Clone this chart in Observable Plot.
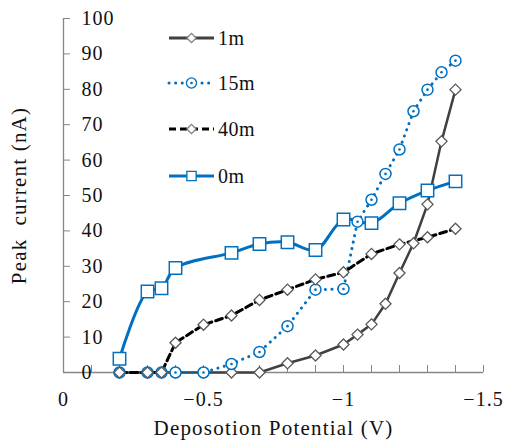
<!DOCTYPE html>
<html><head><meta charset="utf-8">
<script src="https://cdn.jsdelivr.net/npm/d3@7"></script>
<script src="https://cdn.jsdelivr.net/npm/@observablehq/plot@0.6"></script>
<style>
body{margin:0;background:#fff;}
#chart{width:506px;height:440px;}
#chart svg, #chart svg text { font-family: "Liberation Serif", serif !important; }
#chart svg text { font-size: 20px; }
#chart g[aria-label="x-axis tick label"] text, #chart g[aria-label="y-axis tick label"] text { letter-spacing: 1px; }
#chart g[aria-label="x-axis label"] text, #chart g[aria-label="y-axis label"] text { font-size: 21px; letter-spacing: 1.2px; }
</style>
</head><body><div id="chart"></div>
<script>
// ---- data ----
const seriesNames = ["1m", "15m", "40m", "0m"];
const x1m  = [-0.2,-0.3,-0.35,-0.4,-0.5,-0.6,-0.7,-0.8,-0.9,-1.0,-1.05,-1.1,-1.15,-1.2,-1.25,-1.3,-1.35,-1.4];
const y1m  = [0,0,0,0,0,0,0,2.6,4.8,7.9,10.7,13.6,19.4,28.1,36.5,47.5,65.3,79.9];
const x15m = [-0.2,-0.3,-0.35,-0.4,-0.5,-0.6,-0.7,-0.8,-0.9,-1.0,-1.05,-1.1,-1.15,-1.2,-1.25,-1.3,-1.35,-1.4];
const y15m = [0,0,0,0,0,2.4,5.8,13.1,23.4,23.6,42.6,48.8,56.1,63.0,73.8,79.9,84.8,88.1];
const x40m = [-0.2,-0.3,-0.35,-0.4,-0.5,-0.6,-0.7,-0.8,-0.9,-1.0,-1.1,-1.2,-1.3,-1.4];
const y40m = [0,0,0,8.4,13.5,16.1,20.5,23.4,26.3,28.3,33.5,36.2,38.2,40.6];
const x0m  = [-0.2,-0.3,-0.35,-0.4,-0.6,-0.7,-0.8,-0.9,-1.0,-1.1,-1.2,-1.3,-1.4];
const y0m  = [3.9,22.9,23.8,29.5,33.8,36.3,36.8,34.6,43.2,42.2,47.8,51.4,54.0];
const xTickLabels = [0,-0.5,-1,-1.5];
const xMinorTicks = [0,-0.1,-0.2,-0.3,-0.4,-0.5,-0.6,-0.7,-0.8,-0.9,-1.0,-1.1,-1.2,-1.3,-1.4,-1.5];
const yTickLabels = [0,10,20,30,40,50,60,70,80,90,100];
const xTitle = "Deposotion Potential (V)";
const yTitle = "Peak\u00a0\u00a0current (nA)";

const rows = (xs, ys) => xs.map((x, i) => ({x, y: ys[i]}));
const d1m = rows(x1m, y1m), d15m = rows(x15m, y15m), d40m = rows(x40m, y40m), d0m = rows(x0m, y0m);

const BLUE = "#0070C0", GRAY = "#404040", AX = "#868686", MK = "#595959", TXT = "#111";
const FONT = "Liberation Serif, serif";
const fmt = d => d === 0 ? "0" : d3.format("~g")(d);

const svg = Plot.plot({
  width: 506, height: 440,
  marginLeft: 63, marginRight: 23, marginTop: 18, marginBottom: 68,
  style: "font-family: 'Liberation Serif', serif; font-size: 20px; background: #fff; color: #111;",
  x: {domain: [0, -1.5]},
  y: {domain: [0, 100]},
  marks: [
    Plot.ruleY([0], {stroke: AX, strokeWidth: 1.3}),
    Plot.ruleX([0], {stroke: AX, strokeWidth: 1.3}),
    Plot.axisX(xMinorTicks, {anchor: "bottom", tickSize: -7, fill: "none", stroke: AX, label: null}),
    Plot.axisX(xTickLabels, {anchor: "bottom", tickSize: 0, tickPadding: 19, tickFormat: fmt, fontSize: 20, fill: TXT,
      label: xTitle, labelAnchor: "center", labelArrow: "none", labelOffset: 62}),
    Plot.axisY(yTickLabels, {anchor: "left", tickSize: -7, fill: "none", stroke: AX, label: null}),
    Plot.axisY(yTickLabels, {anchor: "left", tickSize: 0, tickPadding: 0, dx: 18, textAnchor: "start", fontSize: 20, fill: TXT,
      label: yTitle, labelAnchor: "center", labelArrow: "none", labelOffset: 52}),
    Plot.line(d1m, {x: "x", y: "y", stroke: GRAY, strokeWidth: 2.5}),
    Plot.line(d15m, {x: "x", y: "y", stroke: BLUE, strokeWidth: 3, strokeDasharray: "0.1 6.5", strokeLinecap: "round"}),
    Plot.line(d40m, {x: "x", y: "y", stroke: "#000", strokeWidth: 3, strokeDasharray: "7 4"}),
    Plot.line(d0m, {x: "x", y: "y", stroke: BLUE, strokeWidth: 3, curve: "catmull-rom"}),
    Plot.dot(d1m, {x: "x", y: "y", symbol: "diamond2", r: 5, fill: "#fff", stroke: MK, strokeWidth: 1.3}),
    Plot.dot(d15m, {x: "x", y: "y", symbol: "circle", r: 5.5, fill: "#fff", stroke: BLUE, strokeWidth: 1.5}),
    Plot.dot(d15m, {x: "x", y: "y", symbol: "circle", r: 1.3, fill: BLUE}),
    Plot.dot(d40m, {x: "x", y: "y", symbol: "diamond2", r: 5, fill: "#fff", stroke: MK, strokeWidth: 1.3}),
    Plot.dot(d0m, {x: "x", y: "y", symbol: "square", r: 7, fill: "#fff", stroke: BLUE, strokeWidth: 1.5})
  ]
});
document.getElementById("chart").appendChild(svg);

// ---- legend (inside plot area, top-left) ----
const legendSpec = [
  {name: seriesNames[0], stroke: GRAY, dash: null, cap: "butt", sym: d3.symbolDiamond2, size: 55, mstroke: "#7f7f7f", dot: false},
  {name: seriesNames[1], stroke: BLUE, dash: "0.1 6.5", cap: "round", sym: d3.symbolCircle, size: 80, mstroke: BLUE, dot: true},
  {name: seriesNames[2], stroke: "#000", dash: "7 4", cap: "butt", sym: d3.symbolDiamond2, size: 55, mstroke: "#7f7f7f", dot: false},
  {name: seriesNames[3], stroke: BLUE, dash: null, cap: "butt", sym: d3.symbolSquare2, size: 110, mstroke: BLUE, dot: false}
];
const rowY = [38, 83, 129, 176];
const lg = d3.select(svg).append("g").attr("aria-label", "legend").attr("font-family", FONT).attr("font-size", 20);
legendSpec.forEach((s, i) => {
  const g = lg.append("g").attr("transform", `translate(169,${rowY[i]})`);
  g.append("line").attr("x1", 0).attr("x2", 45).attr("stroke", s.stroke).attr("stroke-width", 3)
    .attr("stroke-dasharray", s.dash).attr("stroke-linecap", s.cap);
  g.append("path").attr("transform", "translate(22.5,0)").attr("d", d3.symbol(s.sym, s.size)())
    .attr("fill", "#fff").attr("stroke", s.mstroke).attr("stroke-width", 1.3);
  if (s.dot) g.append("circle").attr("cx", 22.5).attr("r", 1.3).attr("fill", BLUE);
  g.append("text").attr("x", 49).attr("dy", "0.35em").attr("text-anchor", "start")
    .attr("fill", TXT).style("letter-spacing", "0.5px").text(s.name);
});
</script>
</body></html>
